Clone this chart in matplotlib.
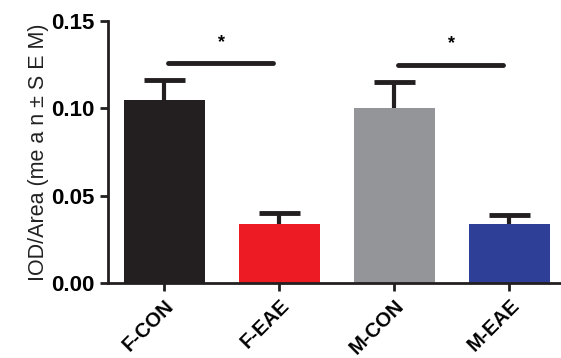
import matplotlib
matplotlib.use("Agg")
import matplotlib.pyplot as plt
import matplotlib.transforms as mtransforms

groups = ["F-CON", "F-EAE", "M-CON", "M-EAE"]
means = [0.105, 0.034, 0.100, 0.034]
sems = [0.011, 0.006, 0.015, 0.005]
colors = ["#231f20", "#ed1c24", "#939598", "#2e3f97"]
brackets = [(0, 1, 0.126), (2, 3, 0.125)]

plt.rcParams["font.family"] = ["Liberation Sans", "DejaVu Sans"]

fig = plt.figure(figsize=(5.61, 3.58), dpi=100)
ax = fig.add_axes([0.1925, 0.21, 0.81, 0.731])

x = list(range(len(groups)))
ax.bar(x, means, width=0.7, color=colors, zorder=2)

# SEM bars, upper side only
tops = [m + s for m, s in zip(means, sems)]
ax.vlines(x, means, tops, color="#231f20", lw=3, zorder=3)
ax.hlines(tops, [i - 0.18 for i in x], [i + 0.18 for i in x], color="#231f20",
          lw=3.5, zorder=3)

for a, b, h in brackets:
    ax.plot([a + 0.03, b - 0.06], [h, h], color="#231f20", lw=3.5,
            solid_capstyle="round", zorder=3)
    ax.text((a + b) / 2, h + 0.007, "*", ha="center", va="bottom",
            fontsize=13, fontweight="bold")

ax.set_xlim(-0.49, 3.46)
ax.set_ylim(0, 0.15)
ax.set_yticks([0.0, 0.05, 0.10, 0.15])
ax.set_yticklabels(["0.00", "0.05", "0.10", "0.15"], fontsize=16, fontweight="bold")
ax.set_xticks(x)
ax.set_xticklabels(groups, rotation=45, ha="right", rotation_mode="anchor",
                   fontsize=14.5, fontweight="bold")
offset = mtransforms.ScaledTranslation(0.09, -0.03, fig.dpi_scale_trans)
for lbl in ax.get_xticklabels():
    lbl.set_transform(lbl.get_transform() + offset)
ax.set_ylabel("IOD/Area (me a n \u00b1 S E M)", fontsize=15.5, color="#222222",
              labelpad=2)

for side in ["top", "right"]:
    ax.spines[side].set_visible(False)
for side in ["left", "bottom"]:
    ax.spines[side].set_linewidth(2)
    ax.spines[side].set_color("#231f20")
ax.tick_params(axis="both", width=2, length=6, color="#231f20")

plt.savefig("out.png", dpi=100)
plt.close()
